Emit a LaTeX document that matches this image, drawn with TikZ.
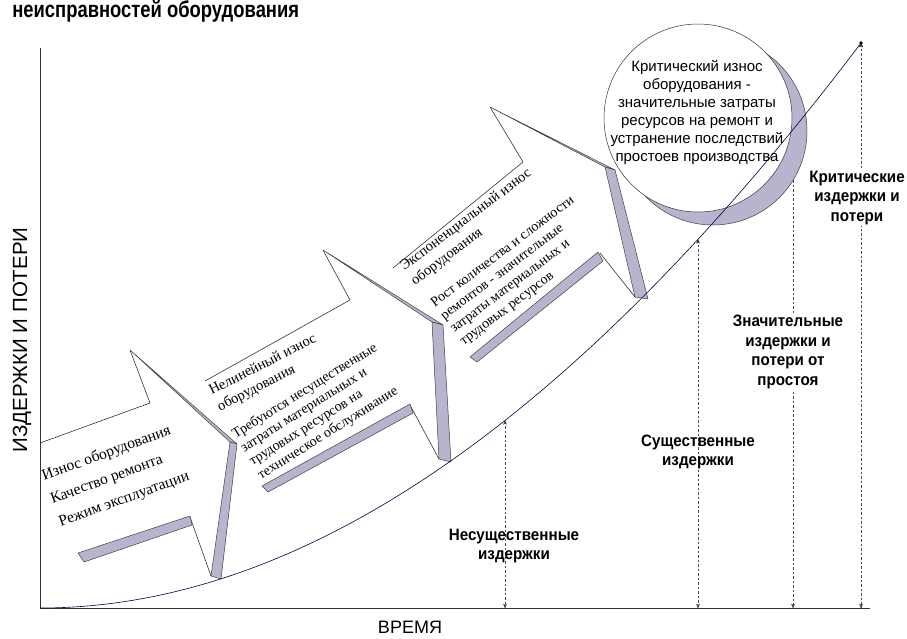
\documentclass[tikz,border=0pt]{standalone}
\usepackage{fontspec}
\setmainfont{Liberation Serif}
\setsansfont{Liberation Sans}
\newfontfamily\titlefont[FakeStretch=0.8]{Liberation Sans}
\newfontfamily\costfont[FakeStretch=0.92]{Liberation Sans}
\usepackage{tikz}
\usetikzlibrary{arrows}

\definecolor{bandgray}{RGB}{186,179,205}

\begin{document}
\begin{tikzpicture}[x=1pt, y=-1pt, >=stealth', line width=0.6pt, line join=round, draw=black!80]
	\tikzset{band/.style={fill=bandgray, draw=black!75, line width=0.5pt}}
	\tikzstyle{wear head}=[font=\fontsize{14.5}{18}\selectfont, align=left, inner sep=0pt, anchor=north west]
	\tikzstyle{wear text}=[font=\fontsize{14}{16}\selectfont, align=left, inner sep=0pt, anchor=north west]
	\tikzstyle{cost}=[font=\costfont\bfseries\fontsize{16.5}{19.5}\selectfont, align=center, inner sep=1pt]
	\tikzstyle{cost arrow}=[<->, dash pattern=on 2.5pt off 2pt, line width=0.55pt, draw=black!70]

	\useasboundingbox (0,0) rectangle (907,638);

	%TITLE AND AXES
	\node[anchor=base west, inner sep=0pt, font=\titlefont\bfseries\fontsize{23}{23}\selectfont] (title) at (12,17.5) {неисправностей оборудования};
	\coordinate (o) at (40,608);
	\coordinate (ytop) at (40,48);
	\coordinate (xend) at (870,608);
	\draw (ytop) -- (o) -- (xend);
	\node[rotate=90, font=\sffamily\fontsize{20.5}{20.5}\selectfont] (ylab) at (22,340) {ИЗДЕРЖКИ И ПОТЕРИ};
	\node[font=\sffamily\fontsize{18}{18}\selectfont] (xlab) at (410,627) {ВРЕМЯ};

	%CURVE POINTS
	\coordinate (top) at (861,43);
	\path (o) .. controls (313.7,608) and (587.3,404.6) .. (top)
		coordinate[pos=0.5664] (c1)
		coordinate[pos=0.8015] (c2)
		coordinate[pos=0.9172] (c3);
	\coordinate (b1) at (c1 |- o);
	\coordinate (b2) at (c2 |- o);
	\coordinate (b3) at (c3 |- o);
	\coordinate (b4) at (top |- o);

	%COST ARROWS
	\path[cost arrow]
		(c1)	edge	(b1)
		(c2)	edge	(b2)
		(c3)	edge	(b3)
		(top)	edge	(b4);

	%STAGE 1
	\draw (40,443) -- (150,403) -- (130,350);
	\filldraw[band] (130,350) -- (237,444) -- (230,442) -- cycle;
	\filldraw[band] (230,442) -- (237,444) -- (221,579) -- (211,576) -- cycle;
	\draw (190,517) -- (211,576);
	\filldraw[band] (78,553) -- (190,516) -- (192,525) -- (84,562) -- cycle;
	\node[wear text, rotate=20, font=\fontsize{15.5}{24.5}\selectfont] (s1) at (40,470) {Износ оборудования\\Качество ремонта\\Режим эксплуатации};

	%STAGE 2
	\draw (205,381) -- (350,300) -- (323,250);
	\filldraw[band] (323,250) -- (443,325) -- (432,322) -- cycle;
	\filldraw[band] (432,322) -- (443,325) -- (451,462) -- (439,459) -- cycle;
	\draw (410,405) -- (439,459);
	\filldraw[band] (262,486) -- (410,404) -- (413,413) -- (268,492) -- cycle;
	\node[wear head, rotate=27] (h2) at (207,386) {Нелинейный износ\\оборудования};
	\node[wear text, rotate=32] (s2) at (230,430) {Требуются несущественные\\затраты материальных и\\трудовых ресурсов на\\техническое обслуживание};

	%STAGE 3
	\draw (393,268) -- (523,162) -- (490,107);
	\filldraw[band] (490,107) -- (615,170) -- (605,167) -- cycle;
	\filldraw[band] (605,167) -- (615,170) -- (648,299) -- (635,297) -- cycle;
	\draw (600,253) -- (635,297);
	\filldraw[band] (470,357) -- (598,252) -- (603,261) -- (477,362) -- cycle;
	\node[wear head, rotate=37] (h3) at (398,263) {Экспоненциальный износ\\оборудования};
	\node[wear text, rotate=37] (s3) at (429,300) {Рост количества и сложности\\ремонтов - значительные\\затраты материальных и\\трудовых ресурсов};

	%STAGE 4
	\filldraw[band] (713,131) circle[radius=94pt];
	\filldraw[fill=white, line width=0.5pt] (698,118) circle[radius=94pt];
	\node[font=\sffamily\fontsize{15}{18}\selectfont, align=center] (crit) at (697,112) {Критический износ\\оборудования -\\значительные затраты\\ресурсов на ремонт и\\устранение последствий\\простоев производства};

	%CURVE
	\draw[draw=black!75!blue] (o) .. controls (313.7,608) and (587.3,404.6) .. (top);
	\fill (top) circle[radius=1.8pt];

	%LABELS
	\node[cost] (l1) at (514,546) {Несущественные\\издержки};
	\node[cost] (l2) at (698,452) {Существенные\\издержки};
	\node[cost, fill=white] (l3) at (788,352) {Значительные\\издержки и\\потери от\\простоя};
	\node[cost, fill=white] (l4) at (857,198) {Критические\\издержки и\\потери};
\end{tikzpicture}
\end{document}
